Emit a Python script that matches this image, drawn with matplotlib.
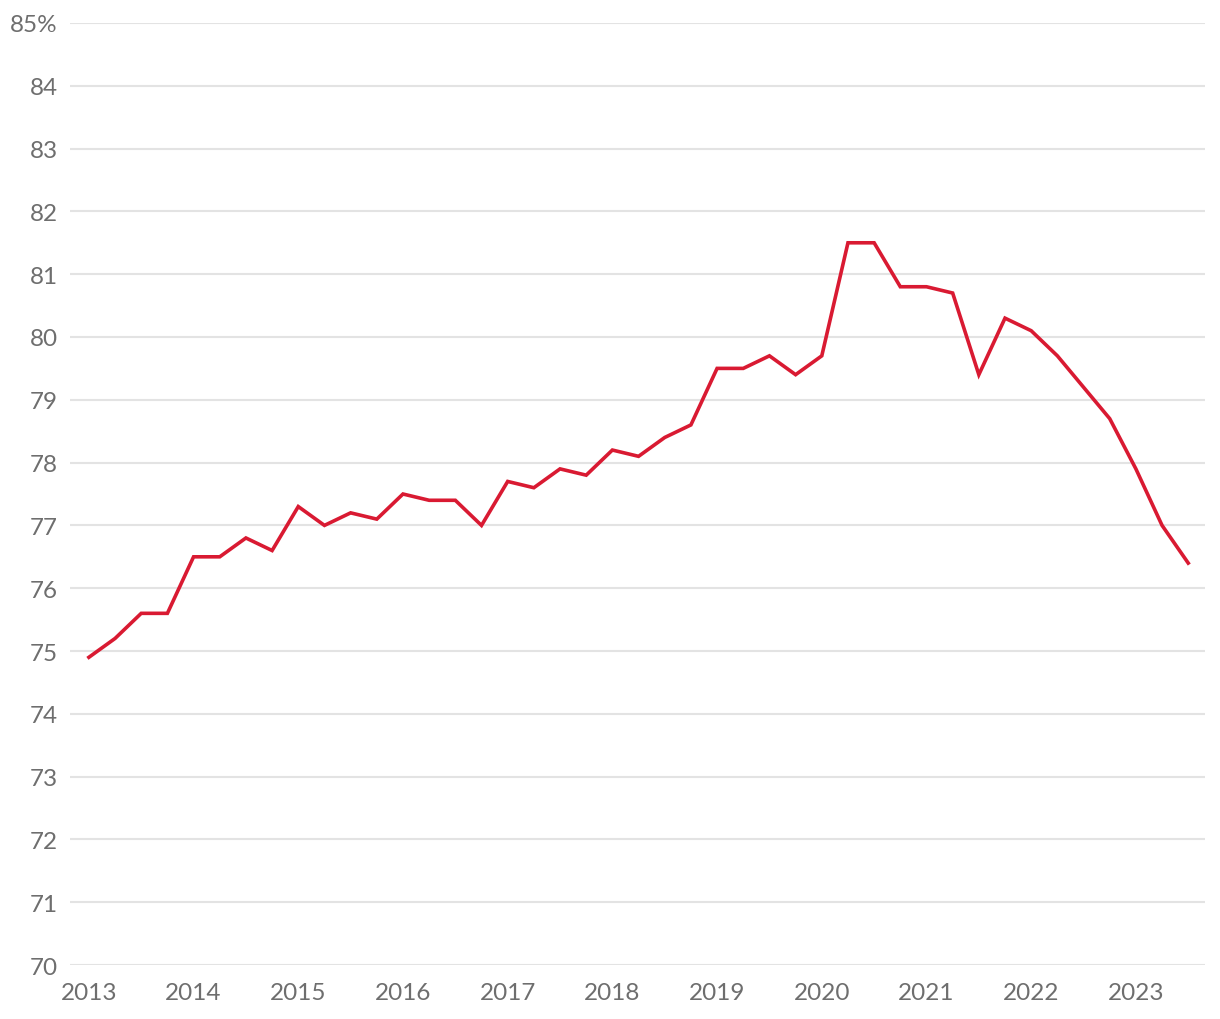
import numpy as np
import matplotlib
matplotlib.use("Agg")
import matplotlib.pyplot as plt

# quarterly values, 2013 Q1 .. 2023 Q3
quarters = np.arange(2013, 2023.75, 0.25)
share = [74.9, 75.2, 75.6, 75.6,
         76.5, 76.5, 76.8, 76.6,
         77.3, 77.0, 77.2, 77.1,
         77.5, 77.4, 77.4, 77.0,
         77.7, 77.6, 77.9, 77.8,
         78.2, 78.1, 78.4, 78.6,
         79.5, 79.5, 79.7, 79.4,
         79.7, 81.5, 81.5, 80.8,
         80.8, 80.7, 79.4, 80.3,
         80.1, 79.7, 79.2, 78.7,
         77.9, 77.0, 76.4]
years = list(range(2013, 2024))
yticks = list(range(70, 86))
ylabels = [str(v) for v in yticks[:-1]] + ["85%"]

plt.rcParams['font.family'] = ['Lato', 'DejaVu Sans']

fig = plt.figure(figsize=(12.2, 10.2), dpi=100)
ax = fig.add_axes([0.0574, 0.0529, 0.9303, 0.9236])

ax.plot(quarters, share, color='#d91a32', lw=2.6, solid_joinstyle='miter')

ax.set_xlim(2012.82, 2023.66)
ax.set_ylim(70, 85)
ax.set_xticks(years)
ax.set_xticklabels([str(y) for y in years])
ax.set_yticks(yticks)
ax.set_yticklabels(ylabels)

ax.grid(axis='y', color='#e3e3e3', lw=1.5)
ax.set_axisbelow(True)
for s in ax.spines.values():
    s.set_visible(False)
ax.tick_params(axis='both', length=0, labelsize=17.5, labelcolor='#6e6e6e')
ax.tick_params(axis='y', pad=9)
ax.tick_params(axis='x', pad=12)

fig.savefig('out.png', dpi=100, facecolor='white')
